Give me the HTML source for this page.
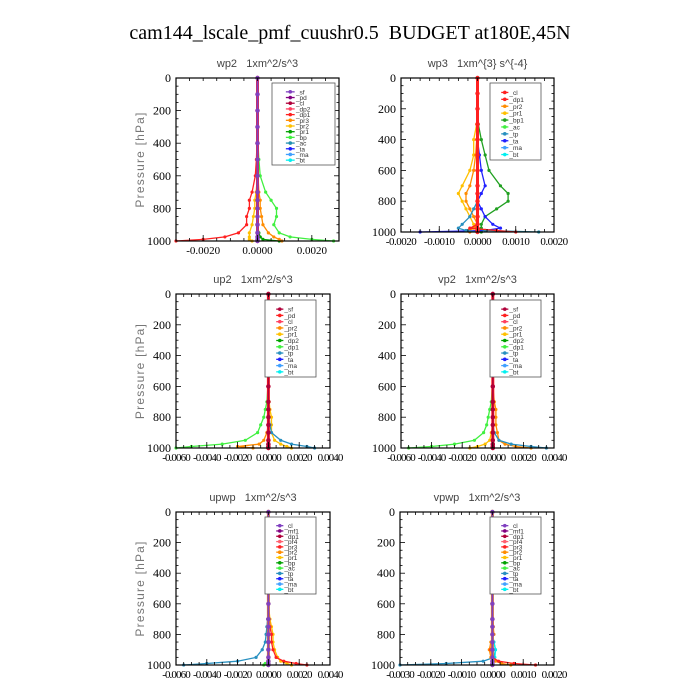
<!DOCTYPE html>
<html><head><meta charset="utf-8"><style>
html,body{margin:0;padding:0;background:#fff;width:700px;height:700px;overflow:hidden}
svg{display:block}
text{white-space:pre}
</style></head><body>
<svg id="chart" width="700" height="700" xmlns="http://www.w3.org/2000/svg" xml:space="preserve">
<text x="350" y="39" text-anchor="middle" font-family="Liberation Serif, serif" font-size="20" fill="#000">cam144_lscale_pmf_cuushr0.5  BUDGET at180E,45N</text>
</svg>
<script>
// Pressure levels (hPa)
const levels = [0,100,200,300,400,500,600,700,750,800,850,900,950,975,990,1000];
const yTicks = [0,200,400,600,800,1000];

// wp2
const wp2_bp  = [0,0,0,0,0.00002,0.00005,0.0001,0.0003,0.0005,0.0007,0.0007,0.0006,0.0008,0.0012,0.002,0.0028];
const wp2_dp1 = [0,0,0,0,-0.00002,-0.00004,-0.00008,-0.0002,-0.0003,-0.0003,-0.0004,-0.0004,-0.0007,-0.0012,-0.002,-0.003];
const wp2_pr3 = [0,0,0,0,0,0,0.00002,0.00005,0.0001,0.0001,0.00015,0.0002,0.0004,0.0006,0.0008,0.0009];
const wp2_pr2 = [0,0,0,0,0,0,0,-0.00005,-0.0001,-0.0001,-0.00015,-0.0002,-0.0003,-0.0003,-0.0003,-0.0002];
const wp2_pr1 = [0,0,0,0,0,0,0,0,0,0,0,0,0.00005,0.0001,0.0002,0.0008];
const wp2_zero = [0,0,0,0,0,0,0,0,0,0,0,0,0,0,0,0];
const wp2_xticks = [-0.002,0,0.002];
const wp2_xlabels = ["-0.0020","0.0000","0.0020"];

// wp3
const wp3_bp1 = [0,0,0,0.00002,0.0001,0.0002,0.0003,0.0006,0.0008,0.0008,0.0005,0.0002,0.0001,0.0001,0.0001,0.0001];
const wp3_pr1 = [0,0,0,-0.00002,-0.0001,-0.0001,-0.0002,-0.0004,-0.0005,-0.0004,-0.0003,-0.0002,-0.0001,-0.00005,0,0];
const wp3_pr2 = [0,0,0,0,-0.00002,-0.00005,-0.0001,-0.0002,-0.0003,-0.0003,-0.0002,-0.0001,0,-0.0001,-0.0002,-0.0002];
const wp3_ta  = [0,0,0,0,0,0.00005,0.0001,0.0002,0.0001,0,0.0001,0.0002,0.0004,0.0006,0.0002,-0.0015];
const wp3_tp  = [0,0,0,0,0,0,0,0,0,0,-0.0001,-0.0002,-0.0004,-0.0005,-0.0003,0];
const wp3_bt  = [0,0,0,0,0,0,0,0,0,0,0,0,0,0,0.0002,0.0016];
const wp3_dp1 = [0,0,0,0,0,0,0,0,0,0,0,0,0,-0.0002,0.0005,0.001];
const wp3_xticks = [-0.002,-0.001,0,0.001,0.002];
const wp3_xlabels = ["-0.0020","-0.0010","0.0000","0.0010","0.0020"];

// up2
const up2_dp1 = [0,0,0,0,0,0,-0.00003,-0.0001,-0.0002,-0.0003,-0.0005,-0.0007,-0.0015,-0.003,-0.005,-0.006];
const up2_pr2 = [0,0,0,0,0,0,0,0,0,0,0,-0.0001,-0.0003,-0.0006,-0.002,-0.001];
const up2_tp  = [0,0,0,0,0,0,0,0,0,0.00005,0.0001,0.0002,0.0008,0.0015,0.0025,0.003];
const up2_pr1 = [0,0,0,0,0,0,0,0.00005,0.0001,0.0002,0.0002,0.0002,0.0004,0.0008,0.0012,0.0015];
const up2_xticks = [-0.006,-0.004,-0.002,0,0.002,0.004];
const up2_xlabels = ["-0.0060","-0.0040","-0.0020","0.0000","0.0020","0.0040"];

// vp2
const vp2_dp1 = [0,0,0,0,0,0,-0.00003,-0.0001,-0.0002,-0.0003,-0.0004,-0.0006,-0.0012,-0.0025,-0.004,-0.0055];
const vp2_pr2 = [0,0,0,0,0,0,0,0.0001,0.0002,0.0002,0.0002,0.0003,0.0004,0.0008,0.0015,0.0025];
const vp2_tp  = [0,0,0,0,0,0,0,0,0,0,0,0.0001,0.0004,0.0012,0.0025,0.0035];
const vp2_pr1 = [0,0,0,0,0,0,0,0,0,0,0,-0.0001,-0.0002,-0.0005,-0.001,-0.0015];

// upwp
const upwp_tp  = [0,0,0,0,0,0,0,-0.00005,-0.0001,-0.00015,-0.0002,-0.0004,-0.0008,-0.002,-0.004,-0.0055];
const upwp_pr3 = [0,0,0,0,0,0,0,0.00005,0.0001,0.0002,0.0002,0.0003,0.0005,0.001,0.0018,0.0025];
const upwp_pr2 = [0,0,0,0,0,0,0,0.0001,0.0002,0.0003,0.0003,0.0004,0.0006,0.0008,0.0012,0.0015];
const upwp_bp  = [0,0,0,0,0,0,0,0,0,0,0,0,0,0,-0.0002,-0.0003];

// vpwp
const vpwp_tp  = [0,0,0,0,0,0,0,0,0,0,0.00005,0.0001,0.00005,-0.0003,-0.0015,-0.003];
const vpwp_pr3 = [0,0,0,0,0,0,0,0,0,0,0,-0.00005,0,0.0002,0.0007,0.0014];
const vpwp_pr2 = [0,0,0,0,0,0,0,0.00002,0.00003,0.00005,-0.00005,-0.0001,-0.00005,0.0001,0.0003,0.0006];
const vpwp_bt  = [0,0,0,0,0,0,0,0,0,0,0.00005,0.0001,0.00008,0,0,0];
const vpwp_xticks = [-0.003,-0.002,-0.001,0,0.001,0.002];
const vpwp_xlabels = ["-0.0030","-0.0020","-0.0010","0.0000","0.0010","0.0020"];

const C = {sf:"#8040c0",pd:"#800080",cl:"#b0003a",mf1:"#800060",dp2:"#ff4060",dp1:"#ff2020",pr4:"#ff6070",pr3:"#ff8c00",pr2:"#ffc000",pr1:"#00a000",bp:"#40f040",bp1:"#20a020",ac:"#2090b0",tp:"#2890c0",ta:"#2020ff",ma:"#40a0ff",bt:"#00f0f0"};

const panels = [
 {name:"wp2",title:"wp2   1xm^2/s^3",x0:176,x1:339,y0:78,y1:241,xmin:-0.003,xmax:0.003,xt:wp2_xticks,xl:wp2_xlabels,ylab:true,
  leg:[272,83,63,82],legItems:["_sf","_pd","_cl","_dp2","_dp1","_pr3","_pr2","_pr1","_bp","_ac","_ta","_ma","_bt"],
  legColors:[C.sf,C.pd,C.cl,C.dp2,C.dp1,C.pr3,C.pr2,C.pr1,C.bp,C.ac,C.ta,C.ma,C.bt],
  series:[[wp2_bp,C.bp,1],[wp2_pr1,C.pr1,1],[wp2_pr3,C.pr3,1],[wp2_pr2,C.pr2,1],[wp2_dp1,C.dp1,1],[wp2_zero,C.dp1,3],[wp2_zero,C.sf,2]]},
 {name:"wp3",title:"wp3   1xm^{3} s^{-4}",x0:401,x1:554,y0:78,y1:232,xmin:-0.002,xmax:0.002,xt:wp3_xticks,xl:wp3_xlabels,ylab:false,
  leg:[490,83,51,77],legItems:["_cl","_dp1","_pr2","_pr1","_bp1","_ac","_tp","_ta","_ma","_bt"],
  legColors:[C.dp1,C.dp1,C.pr3,C.pr2,C.bp1,C.bp,C.tp,C.ta,C.ma,C.bt],
  series:[[wp3_bp1,C.bp1,1],[wp3_pr1,C.pr2,1],[wp3_pr2,C.pr3,1],[wp3_ta,C.ta,1],[wp3_tp,C.tp,1],[wp3_bt,C.ac,1],[wp3_dp1,C.dp1,1],[wp2_zero,C.dp1,3]]},
 {name:"up2",title:"up2   1xm^2/s^3",x0:176,x1:330,y0:294,y1:448,xmin:-0.006,xmax:0.004,xt:up2_xticks,xl:up2_xlabels,ylab:true,
  leg:[265,300,51,77],legItems:["_sf","_pd","_cl","_pr2","_pr1","_dp2","_dp1","_tp","_ta","_ma","_bt"],
  legColors:[C.cl,C.dp1,C.dp2,C.pr3,C.pr2,C.pr1,C.bp,C.tp,C.ta,C.ma,C.bt],
  series:[[up2_dp1,C.bp,1],[up2_pr2,C.pr3,1],[up2_pr1,C.pr2,1],[up2_tp,C.tp,1],[wp2_zero,C.dp1,3],[wp2_zero,C.cl,1.5]]},
 {name:"vp2",title:"vp2   1xm^2/s^3",x0:401,x1:554,y0:294,y1:448,xmin:-0.006,xmax:0.004,xt:up2_xticks,xl:up2_xlabels,ylab:false,
  leg:[490,300,51,77],legItems:["_sf","_pd","_cl","_pr2","_pr1","_dp2","_dp1","_tp","_ta","_ma","_bt"],
  legColors:[C.cl,C.dp1,C.dp2,C.pr3,C.pr2,C.pr1,C.bp,C.tp,C.ta,C.ma,C.bt],
  series:[[vp2_dp1,C.bp,1],[vp2_pr1,C.pr2,1],[vp2_pr2,C.pr3,1],[vp2_tp,C.tp,1],[wp2_zero,C.dp1,3],[wp2_zero,C.cl,1.5]]},
 {name:"upwp",title:"upwp   1xm^2/s^3",x0:176,x1:330,y0:512,y1:665,xmin:-0.006,xmax:0.004,xt:up2_xticks,xl:up2_xlabels,ylab:true,
  leg:[265,517,51,77],legItems:["_cl","_mf1","_dp1","_pr4","_pr3","_pr2","_pr1","_bp","_ac","_tp","_ta","_ma","_bt"],
  legColors:[C.sf,C.pd,C.cl,C.pr4,C.dp1,C.pr3,C.pr2,C.pr1,C.bp,C.tp,C.ta,C.ma,C.bt],
  series:[[upwp_tp,C.tp,1],[upwp_pr2,C.pr2,1],[upwp_pr3,C.dp1,1],[upwp_bp,C.bp,1],[wp2_zero,C.pr3,3],[wp2_zero,C.sf,2]]},
 {name:"vpwp",title:"vpwp   1xm^2/s^3",x0:400,x1:554,y0:512,y1:665,xmin:-0.003,xmax:0.002,xt:vpwp_xticks,xl:vpwp_xlabels,ylab:false,
  leg:[490,517,51,77],legItems:["_cl","_mf1","_dp1","_pr4","_pr3","_pr2","_pr1","_bp","_ac","_tp","_ta","_ma","_bt"],
  legColors:[C.sf,C.pd,C.cl,C.pr4,C.dp1,C.pr3,C.pr2,C.pr1,C.bp,C.tp,C.ta,C.ma,C.bt],
  series:[[vpwp_tp,C.tp,1],[vpwp_bt,C.bt,1],[vpwp_pr2,C.pr3,1],[vpwp_pr3,C.dp1,1],[wp2_zero,C.pr3,3],[wp2_zero,C.sf,2]]}
];

const NS="http://www.w3.org/2000/svg";
const svg=document.getElementById('chart');
function mk(tag,attrs,parent){const e=document.createElementNS(NS,tag);for(const k in attrs)e.setAttribute(k,attrs[k]);(parent||svg).appendChild(e);return e;}

panels.forEach(p=>{
  const g=mk('g',{});
  
  
  const xs=v=>p.x0+(v-p.xmin)/(p.xmax-p.xmin)*(p.x1-p.x0);
  const ys=v=>p.y0+v/1000*(p.y1-p.y0);
  const t=mk('text',{x:(p.x0+p.x1)/2,y:p.y0-11,'text-anchor':'middle','font-family':'Liberation Sans, sans-serif','font-size':'11','fill':'#444'},g);
  t.textContent=p.title;
  
  
  p.series.forEach(s=>{
    const vals=s[0],col=s[1],w=s[2];
    const pts=levels.map((l,i)=>xs(vals[i]).toFixed(1)+','+ys(l).toFixed(1)).join(' ');
    const pl=mk('polyline',{points:pts,fill:'none',stroke:col,'stroke-width':w>1?w:1.3},g);
    
    
    levels.forEach((l,i)=>{
      const c=mk('circle',{cx:xs(vals[i]),cy:ys(l),r:w>1?'2.2':'1.6',fill:col},g);
      
      
    });
  });
  const fr=mk('rect',{x:p.x0,y:p.y0,width:p.x1-p.x0,height:p.y1-p.y0,fill:'none',stroke:'#000','stroke-width':'1.2'},g);
  
  
  for(let v=0;v<=1000;v+=50){
    const len=(v%200===0)?5:2.5;const y=ys(v);
    mk('line',{x1:p.x0,y1:y,x2:p.x0+len,y2:y,stroke:'#000','stroke-width':'0.8'},g);
    mk('line',{x1:p.x1,y1:y,x2:p.x1-len,y2:y,stroke:'#000','stroke-width':'0.8'},g);
  }
  yTicks.forEach(v=>{
    const tl=mk('text',{x:p.x0-5,y:ys(v)+4,'text-anchor':'end','font-family':'Liberation Serif, serif','font-size':'12'},g);
    tl.textContent=v;
    
    
  });
  const step=(p.xt[1]-p.xt[0])/4;
  for(let v=p.xmin;v<=p.xmax+1e-9;v+=step){
    const x=xs(v);
    mk('line',{x1:x,y1:p.y1,x2:x,y2:p.y1-3,stroke:'#000','stroke-width':'0.8'},g);
    mk('line',{x1:x,y1:p.y0,x2:x,y2:p.y0+3,stroke:'#000','stroke-width':'0.8'},g);
  }
  const fs = p.xt.length>4 ? 11 : 11;
  const ls = p.xt.length>5 ? -0.9 : (p.xt.length>4 ? -0.5 : 0);
  p.xt.forEach((v,i)=>{
    const x=xs(v);
    mk('line',{x1:x,y1:p.y1,x2:x,y2:p.y1-6,stroke:'#000','stroke-width':'0.8'},g);
    const tl=mk('text',{x:x,y:p.y1+13,'text-anchor':'middle','font-family':'Liberation Serif, serif','font-size':fs,'letter-spacing':ls},g);
    tl.textContent=p.xl[i];
    
    
  });
  if(p.ylab){
    const yl=mk('text',{x:0,y:0,transform:`translate(${p.x0-32},${(p.y0+p.y1)/2}) rotate(-90)`,'text-anchor':'middle','font-family':'Liberation Sans, sans-serif','font-size':'12','fill':'#777','letter-spacing':'1.2'},g);
    yl.textContent='Pressure [hPa]';
    
    
  }
  const [lx,ly,lw,lh]=p.leg;
  const lg=mk('g',{},g);
  
  
  mk('rect',{x:lx,y:ly,width:lw,height:lh,fill:'#fff',stroke:'#555','stroke-width':'0.8'},lg);
  const dy=(lh-8)/p.legItems.length;
  p.legItems.forEach((name,i)=>{
    const y=ly+6+dy*(i+0.5);
    const e=mk('g',{},lg);
    
    
    mk('line',{x1:lx+lw*0.22,y1:y,x2:lx+lw*0.36,y2:y,stroke:p.legColors[i],'stroke-width':'1.3'},e);
    mk('circle',{cx:lx+lw*0.29,cy:y,r:'1.8',fill:p.legColors[i]},e);
    const tx=mk('text',{x:lx+lw*0.38,y:y+2.5,'font-family':'Liberation Sans, sans-serif','font-size':'6.5','fill':'#333'},e);
    tx.textContent=name;
  });
});
</script>
</body></html>
